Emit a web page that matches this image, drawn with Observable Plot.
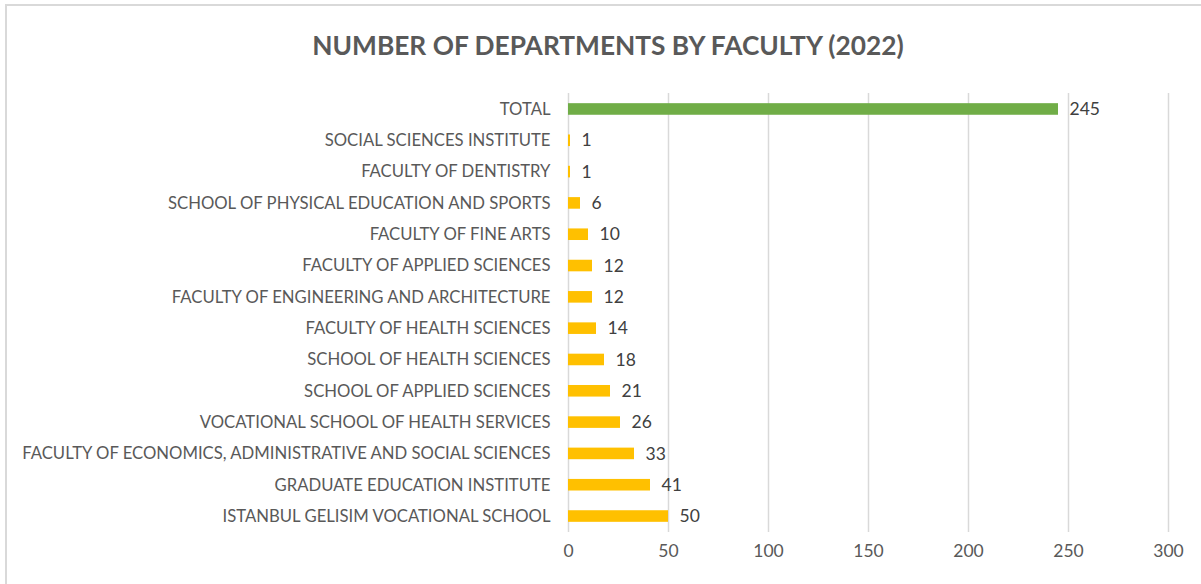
<!DOCTYPE html>
<html>
<head>
<meta charset="utf-8">
<script src="https://cdn.jsdelivr.net/npm/d3@7"></script>
<script src="https://cdn.jsdelivr.net/npm/@observablehq/plot@0.6"></script>
<style>
  html, body { margin: 0; padding: 0; background: #fff; overflow: hidden; }
  #frame { position: absolute; left: 5px; top: 4px; width: 1300px; height: 700px; border: 2px solid #d9d9d9; box-sizing: border-box; }
  #title { position: absolute; left: 0; width: 1216px; top: 29px; text-align: center; font-family: Lato, sans-serif; font-weight: bold; font-size: 26.3px; color: #595959; }
  #chart { position: absolute; left: 0; top: 85px; }
</style>
</head>
<body>
<div id="frame"></div>
<div id="title">NUMBER OF DEPARTMENTS BY FACULTY (2022)</div>
<div id="chart"></div>
<script>
const categories = [
  "TOTAL",
  "SOCIAL SCIENCES INSTITUTE",
  "FACULTY OF DENTISTRY",
  "SCHOOL OF PHYSICAL EDUCATION AND SPORTS",
  "FACULTY OF FINE ARTS",
  "FACULTY OF APPLIED SCIENCES",
  "FACULTY OF ENGINEERING AND ARCHITECTURE",
  "FACULTY OF HEALTH SCIENCES",
  "SCHOOL OF HEALTH SCIENCES",
  "SCHOOL OF APPLIED SCIENCES",
  "VOCATIONAL SCHOOL OF HEALTH SERVICES",
  "FACULTY OF ECONOMICS, ADMINISTRATIVE AND SOCIAL SCIENCES",
  "GRADUATE EDUCATION INSTITUTE",
  "ISTANBUL GELISIM VOCATIONAL SCHOOL"
];
const values = [245, 1, 1, 6, 10, 12, 12, 14, 18, 21, 26, 33, 41, 50];
const xTicks = [0, 50, 100, 150, 200, 250, 300];
const colorTotal = "#70AD47";
const colorItem = "#FFC000";

const data = categories.map((c, i) => ({ name: c, value: values[i], color: i === 0 ? colorTotal : colorItem }));

const chart = Plot.plot({
  width: 1201,
  height: 490,
  marginLeft: 568,
  marginRight: 33,
  marginTop: 8,
  marginBottom: 43,
  style: { fontFamily: "Lato, sans-serif", fontSize: "16.7px", color: "#595959", background: "transparent" },
  x: { domain: [0, 300], ticks: xTicks, label: null, tickSize: 0, tickPadding: 12 },
  y: { domain: categories, label: null, tickSize: 0, tickPadding: 18, paddingInner: 0.63, paddingOuter: 0.325, round: false },
  marks: [
    Plot.ruleX(xTicks, { stroke: "#d9d9d9", strokeWidth: 1.5, strokeOpacity: 1 }),
    Plot.barX(data, { x: "value", y: "name", fill: "color" }),
    Plot.text(data, { x: "value", y: "name", text: d => String(d.value), textAnchor: "start", dx: 11, fill: "#404040", fontSize: 17.5 })
  ]
});
chart.querySelectorAll("[aria-label='x-axis tick label'] text").forEach(t => t.setAttribute("font-size", "17.5"));
document.getElementById("chart").appendChild(chart);
</script>
</body>
</html>
